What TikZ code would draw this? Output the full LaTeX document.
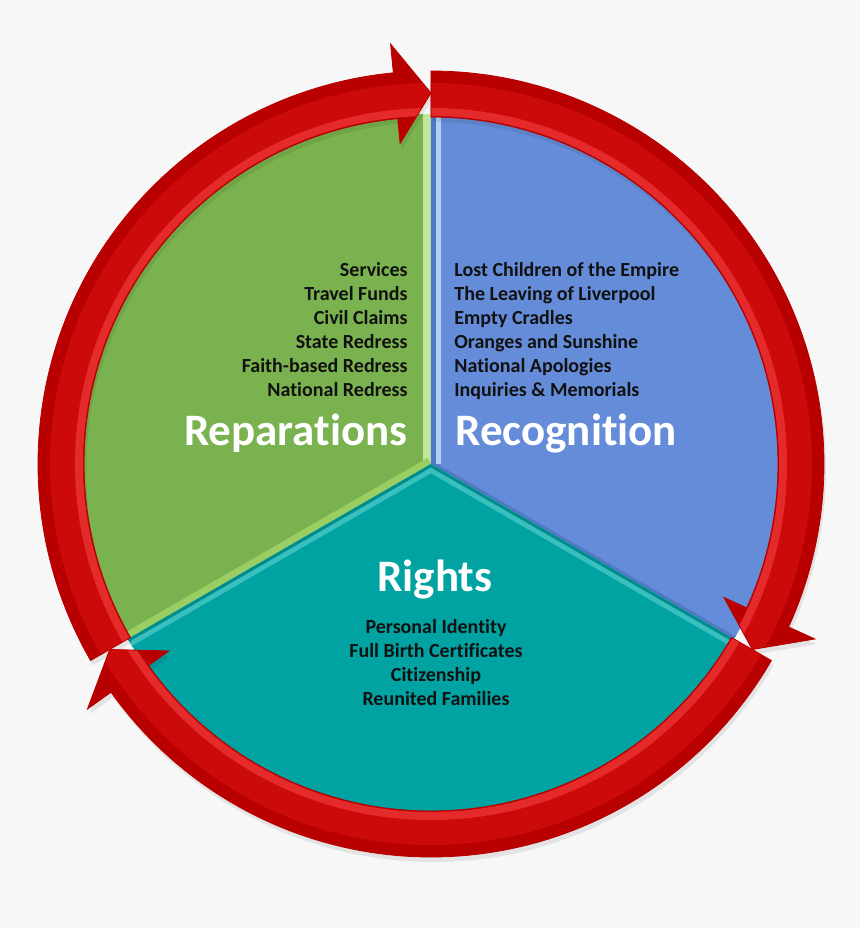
\documentclass[tikz,border=0pt]{standalone}
\usepackage{fontspec}
\setmainfont{Carlito}[Ligatures={NoCommon,NoContextual}, Contextuals=NoAlternate]
\definecolor{bgcol}{HTML}{F7F7F7}
\definecolor{repgreen}{HTML}{79B24E}
\definecolor{recblue}{HTML}{648CD8}
\definecolor{rigteal}{HTML}{00A2A2}
\definecolor{greenlite}{HTML}{C4E69C}
\definecolor{greenedge}{HTML}{9ACD62}
\definecolor{bluelite}{HTML}{B0D0F5}
\definecolor{bluedark}{HTML}{5279C6}
\definecolor{teallite}{HTML}{3ABFBF}
\definecolor{tealdark}{HTML}{008C8C}
\definecolor{ringdark}{HTML}{B80000}
\definecolor{ringmid}{HTML}{CC0A0A}
\definecolor{ringlite}{HTML}{E42A2A}
\definecolor{textcol}{HTML}{111111}
% one ring arrow, tail at #1, tip 120 degrees further clockwise
\newcommand{\ringarrow}[1]{(#1:393) arc[start angle=#1, end angle={#1-114.5}, radius=393]
  -- ({#1-114.5}:422) -- ({#1-120}:371) -- ({#1-114.5}:322) -- ({#1-114.5}:347)
  arc[start angle={#1-114.5}, end angle=#1, radius=347] -- cycle}
\tikzset{
  item/.style={inner sep=0pt, text=textcol, font=\fontsize{10}{12}\selectfont\bfseries},
  title/.style={inner sep=0pt, text=white, font=\fontsize{22.5}{27}\selectfont\bfseries}
}
\begin{document}
\begin{tikzpicture}[x=0.5pt, y=0.5pt]
  % fondo
  \fill[bgcol] (-431,-464) rectangle (429,464);
  \useasboundingbox (-431,-464) rectangle (429,464);
  % sectores
  \fill[repgreen] (0,0) -- (90:350) arc[start angle=90, end angle=210, radius=350] -- cycle;
  \fill[recblue] (0,0) -- (-30:350) arc[start angle=-30, end angle=90, radius=350] -- cycle;
  \fill[rigteal] (0,0) -- (210:350) arc[start angle=210, end angle=330, radius=350] -- cycle;
  % bordes claros
  \begin{scope}
    \clip (0,0) -- (90:350) arc[start angle=90, end angle=210, radius=350] -- cycle;
    \draw[greenlite, line width=8] (0,0) -- (90:360);
    \draw[greenedge, line width=7] (0,0) -- (210:360);
  \end{scope}
  \begin{scope}
    \clip (0,0) -- (-30:350) arc[start angle=-30, end angle=90, radius=350] -- cycle;
    \draw[bluelite, line width=10] (0,0) -- (90:360);
    \draw[bluedark, line width=5] (0,0) -- (90:360);
    \draw[bluedark, line width=3] (0,0) -- (-30:360);
  \end{scope}
  \begin{scope}
    \clip (0,0) -- (210:350) arc[start angle=210, end angle=330, radius=350] -- cycle;
    \draw[teallite, line width=8] (0,0) -- (210:360) (0,0) -- (330:360);
    \draw[tealdark, line width=3] (0,0) -- (210:360) (0,0) -- (330:360);
  \end{scope}
  % flechas
  \foreach \a in {210,90,-30} {
    \fill[black, opacity=0.08, shift={(2,-5)}] \ringarrow{\a};
    \begin{scope}
      \clip \ringarrow{\a};
      \fill[ringdark] (0,0) circle (430);
      \draw[ringmid, line width=14] (0,0) circle (367);
      \draw[ringlite, line width=4] (0,0) circle (352);
    \end{scope}
    \draw[ringdark, line width=0.4] \ringarrow{\a};
  }
  % textos
  \foreach \t [count=\i] in {Services, Travel Funds, Civil Claims, State Redress, Faith-based Redress, National Redress}
    \node[item, anchor=base east] (rep\i) at (-23,212-24*\i) {\t};
  \foreach \t [count=\i] in {Lost Children of the Empire, The Leaving of Liverpool, Empty Cradles, Oranges and Sunshine, National Apologies, Inquiries \& Memorials}
    \node[item, anchor=base west] (rec\i) at (23,212-24*\i) {\t};
  \foreach \t [count=\i] in {Personal Identity, Full Birth Certificates, Citizenship, Reunited Families}
    \node[item, anchor=base] (rig\i) at (5,-145-24*\i) {\t};
  \node[title, anchor=base east] (reparations) at (-23,19) {Reparations};
  \node[title, anchor=base west] (recognition) at (24,19) {Recognition};
  \node[title, anchor=base] (rights) at (4,-127) {Rights};
\end{tikzpicture}
\end{document}
